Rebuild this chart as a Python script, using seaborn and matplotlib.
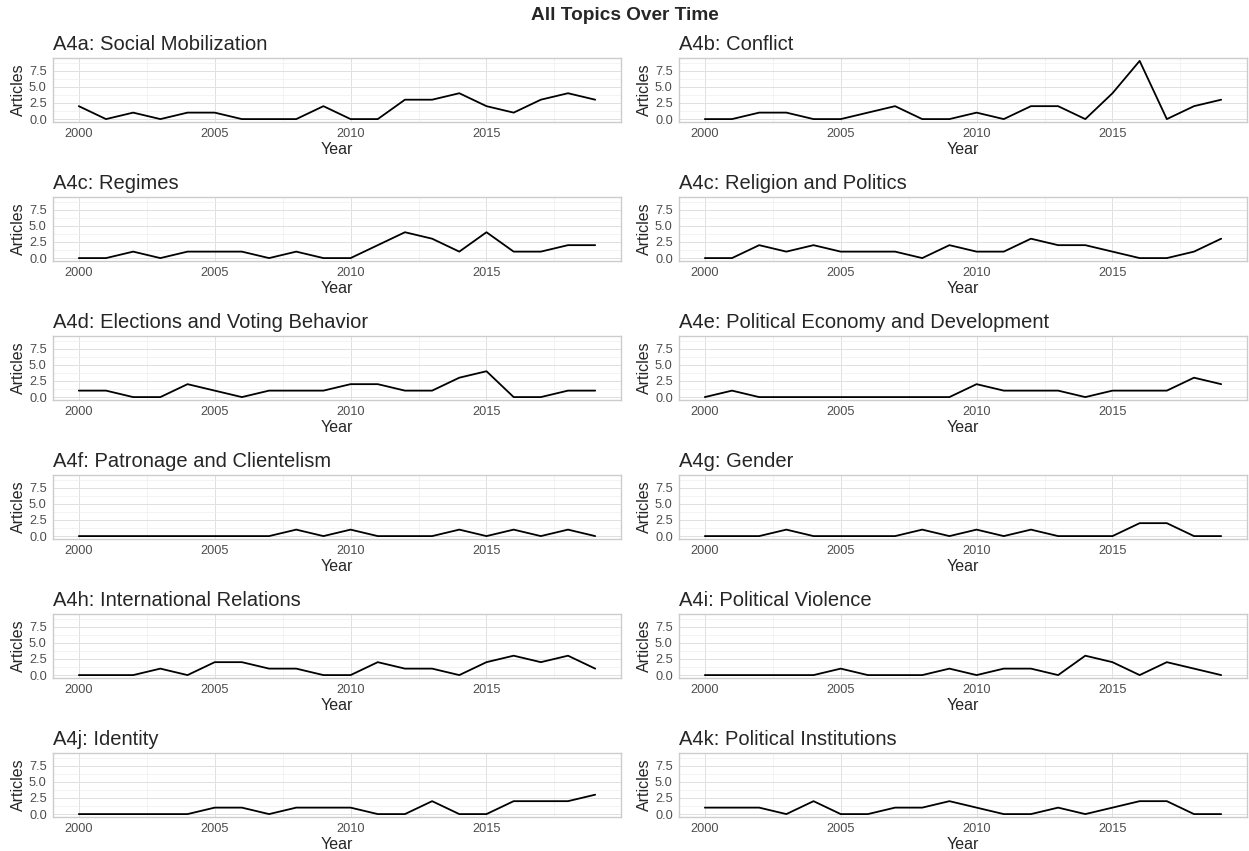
import matplotlib
matplotlib.use("Agg")
import matplotlib.pyplot as plt
from matplotlib.ticker import MultipleLocator, FixedLocator
import numpy as np
import pandas as pd
import seaborn as sns

years = list(range(2000, 2020))

topics = [
    "A4a: Social Mobilization", "A4b: Conflict",
    "A4c: Regimes", "A4c: Religion and Politics",
    "A4d: Elections and Voting Behavior", "A4e: Political Economy and Development",
    "A4f: Patronage and Clientelism", "A4g: Gender",
    "A4h: International Relations", "A4i: Political Violence",
    "A4j: Identity", "A4k: Political Institutions",
]

social_mobilization = [2, 0, 1, 0, 1, 1, 0, 0, 0, 2, 0, 0, 3, 3, 4, 2, 1, 3, 4, 3]
conflict = [0, 0, 1, 1, 0, 0, 1, 2, 0, 0, 1, 0, 2, 2, 0, 4, 9, 0, 2, 3]
regimes = [0, 0, 1, 0, 1, 1, 1, 0, 1, 0, 0, 2, 4, 3, 1, 4, 1, 1, 2, 2]
religion = [0, 0, 2, 1, 2, 1, 1, 1, 0, 2, 1, 1, 3, 2, 2, 1, 0, 0, 1, 3]
elections = [1, 1, 0, 0, 2, 1, 0, 1, 1, 1, 2, 2, 1, 1, 3, 4, 0, 0, 1, 1]
political_economy = [0, 1, 0, 0, 0, 0, 0, 0, 0, 0, 2, 1, 1, 1, 0, 1, 1, 1, 3, 2]
patronage = [0, 0, 0, 0, 0, 0, 0, 0, 1, 0, 1, 0, 0, 0, 1, 0, 1, 0, 1, 0]
gender = [0, 0, 0, 1, 0, 0, 0, 0, 1, 0, 1, 0, 1, 0, 0, 0, 2, 2, 0, 0]
intl_relations = [0, 0, 0, 1, 0, 2, 2, 1, 1, 0, 0, 2, 1, 1, 0, 2, 3, 2, 3, 1]
political_violence = [0, 0, 0, 0, 0, 1, 0, 0, 0, 1, 0, 1, 1, 0, 3, 2, 0, 2, 1, 0]
identity = [0, 0, 0, 0, 0, 1, 1, 0, 1, 1, 1, 0, 0, 2, 0, 0, 2, 2, 2, 3]
institutions = [1, 1, 1, 0, 2, 0, 0, 1, 1, 2, 1, 0, 0, 1, 0, 1, 2, 2, 0, 0]

series = [social_mobilization, conflict, regimes, religion, elections,
          political_economy, patronage, gender, intl_relations,
          political_violence, identity, institutions]

frames = []
for t, vals in zip(topics, series):
    frames.append(pd.DataFrame({"Topic": t, "Year": years, "Articles": vals}))
df = pd.concat(frames)

sns.set_style("white")
plt.rcParams['font.family'] = ['Liberation Sans', 'DejaVu Sans']

W, H = 1249, 851
fig = plt.figure(figsize=(W / 100, H / 100), dpi=100)

ymax = df["Articles"].max()
ylo, yhi = -0.05 * ymax, ymax * 1.05
xlo, xhi = 2000 - 0.05 * 19, 2019 + 0.05 * 19

lefts = [53, 679]
pw, ph = 568, 64
for i, t in enumerate(topics):
    row, col = divmod(i, 2)
    top = 58 + 139 * row
    ax = fig.add_axes([lefts[col] / W, 1 - (top + ph) / H, pw / W, ph / H])
    sns.lineplot(data=df[df["Topic"] == t], x="Year", y="Articles",
                 color="black", linewidth=1.3, ax=ax)
    ax.set_xlim(xlo, xhi)
    ax.set_ylim(ylo, yhi)
    ax.xaxis.set_major_locator(FixedLocator([2000, 2005, 2010, 2015]))
    ax.xaxis.set_minor_locator(FixedLocator([2002.5, 2007.5, 2012.5, 2017.5]))
    ax.yaxis.set_major_locator(MultipleLocator(2.5))
    ax.yaxis.set_minor_locator(FixedLocator([1.25, 3.75, 6.25, 8.75]))
    ax.yaxis.set_major_formatter(matplotlib.ticker.FormatStrFormatter("%.1f"))
    ax.xaxis.set_major_formatter(matplotlib.ticker.FormatStrFormatter("%d"))
    ax.grid(which="major", color="#E0E0E0", linewidth=0.7)
    ax.grid(which="minor", color="#EFEFEF", linewidth=0.5)
    ax.set_axisbelow(True)
    for s in ax.spines.values():
        s.set_color("#CCCCCC")
        s.set_linewidth(1.0)
    ax.tick_params(which="major", length=2.5, width=0.6, color="#C0C0C0",
                   labelsize=9.2, labelcolor="#4D4D4D", pad=2)
    ax.tick_params(which="minor", length=0)
    ax.set_xlabel("Year", fontsize=11.5, labelpad=1)
    ax.set_ylabel("Articles", fontsize=11.5, labelpad=2)
    ax.set_title(t, loc="left", fontsize=14.5, pad=6)

fig.text(0.5, 1 - 15 / H, "All Topics Over Time", ha="center", va="center",
         fontsize=13.7, fontweight="bold")

fig.savefig("out.png", dpi=100, facecolor="white")
